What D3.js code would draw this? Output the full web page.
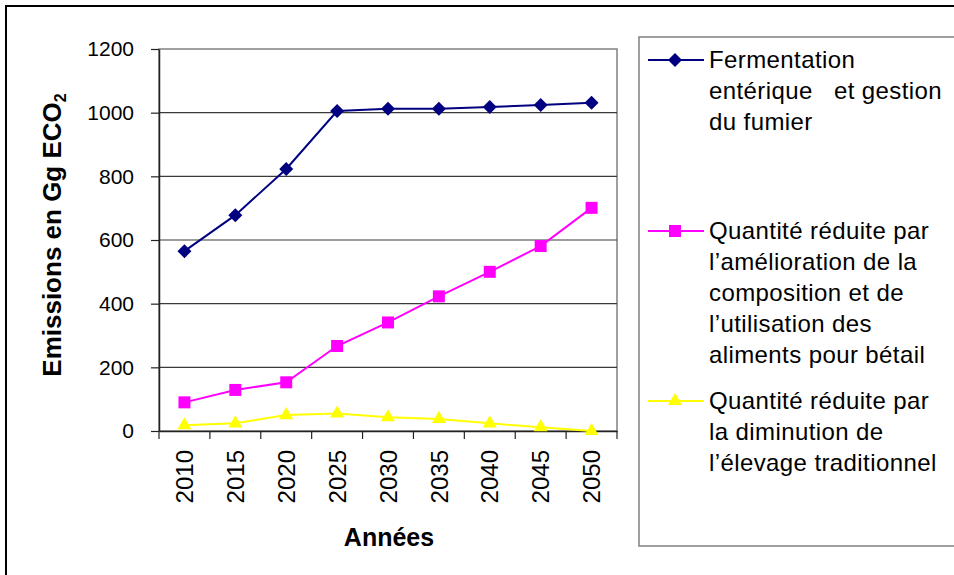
<!DOCTYPE html>
<html>
<head>
<meta charset="utf-8">
<title>Emissions en Gg ECO2</title>
<script src="https://cdn.jsdelivr.net/npm/d3@7"></script>
</head>
<body style="margin:0;background:#fff">
<style>
text { font-family: Arial, "Liberation Sans", sans-serif; fill: #000; }
</style>
<script>

// data
years = ['2010','2015','2020','2025','2030','2035','2040','2045','2050']
fermentation = [565, 678, 823, 1005, 1012, 1012, 1018, 1024, 1031]
reduitAliments = [90, 129, 153, 267, 341, 423, 500, 581, 701]
reduitElevage = [18, 24, 50, 55, 43, 38, 24, 12, 0]
yTicks = [0, 200, 400, 600, 800, 1000, 1200]

legendLabels = [
	['Fermentation', 'entérique   et gestion', 'du fumier'],
	['Quantité réduite par', 'l\u2019amélioration de la', 'composition et de', 'l\u2019utilisation des', 'aliments pour bétail'],
	['Quantité réduite par', 'la diminution de', 'l\u2019élevage traditionnel']
]

var series = [
	{values: fermentation, color: '#000080', shape: 'diamond'},
	{values: reduitAliments, color: '#ff00ff', shape: 'square'},
	{values: reduitElevage, color: '#ffff00', shape: 'triangle'}
];

var svg = d3.select("body").append("svg").attr("width", 954).attr("height", 575);

// outer frame (goes off the right and bottom edges)
svg.append("rect").attr("x", 6).attr("y", 6).attr("width", 1000).attr("height", 1000)
	.style("fill", "none").style("stroke", "#000").style("stroke-width", 2);

var plotLeft = 159, plotRight = 617, plotTop = 49, plotBottom = 431;

var x = d3.scaleBand().domain(years).range([plotLeft, plotRight]).padding(0);
var y = d3.scaleLinear().domain([0, 1200]).range([plotBottom, plotTop]);

// plot border
svg.append("rect").attr("x", plotLeft).attr("y", plotTop)
	.attr("width", plotRight - plotLeft).attr("height", plotBottom - plotTop)
	.style("fill", "none").style("stroke", "#808080").style("stroke-width", 1.5);

// grid lines
svg.append("g").selectAll("line").data(yTicks.slice(1, -1)).enter().append("line")
	.attr("x1", plotLeft).attr("x2", plotRight)
	.attr("y1", function(d){ return y(d); }).attr("y2", function(d){ return y(d); })
	.style("stroke", "#3a3a3a").style("stroke-width", 1.2);

// y axis
var yAxis = svg.append("g").attr("transform", "translate(" + plotLeft + ",0)")
	.call(d3.axisLeft(y).tickValues(yTicks).tickFormat(d3.format("d"))
		.tickSize(8).tickPadding(17).tickSizeOuter(0));
yAxis.select(".domain").style("stroke", "#222").style("stroke-width", 1.5);
yAxis.selectAll(".tick line").style("stroke", "#222").style("stroke-width", 1.2);
yAxis.selectAll("text").style("font-size", "21px").style("font-family", "Arial, 'Liberation Sans', sans-serif");

// x axis: labels in the band centres, ticks between categories
var xAxis = svg.append("g").attr("transform", "translate(0," + plotBottom + ")")
	.call(d3.axisBottom(x).tickSize(0).tickSizeOuter(0));
xAxis.select(".domain").style("stroke", "#222").style("stroke-width", 1.5);
xAxis.selectAll("text")
	.attr("transform", "rotate(-90)")
	.attr("x", -19).attr("y", 0).attr("dy", "0.36em")
	.style("text-anchor", "end")
	.style("font-size", "24px").style("font-family", "Arial, 'Liberation Sans', sans-serif");
xAxis.selectAll("line.edge").data(d3.range(years.length + 1)).enter().append("line")
	.attr("class", "edge")
	.attr("x1", function(i){ return plotLeft + i * x.step(); })
	.attr("x2", function(i){ return plotLeft + i * x.step(); })
	.attr("y1", 0).attr("y2", 8)
	.style("stroke", "#222").style("stroke-width", 1.2);

// axis titles
svg.append("text").attr("x", 389).attr("y", 546)
	.style("text-anchor", "middle").style("font-size", "25px").style("font-weight", "bold")
	.text("Années");

var yTitle = svg.append("text")
	.attr("transform", "translate(61,235) rotate(-90)")
	.style("text-anchor", "middle").style("font-size", "26px").style("font-weight", "bold");
yTitle.append("tspan").text("Emissions en Gg ECO");
yTitle.append("tspan").attr("dy", 5).style("font-size", "16px").text("2");

function symbolFor(shape){
	if (shape == 'diamond') return d3.symbol(d3.symbolSquare, 98)();
	if (shape == 'square') return d3.symbol(d3.symbolSquare, 144)();
	return d3.symbol(d3.symbolTriangle, 85)();
}

var line = d3.line()
	.x(function(d, i){ return x(years[i]) + x.bandwidth() / 2; })
	.y(function(d){ return y(d); });

series.forEach(function(s){
	svg.append("path").datum(s.values)
		.attr("d", line)
		.style("fill", "none").style("stroke", s.color).style("stroke-width", 2);
	svg.append("g").selectAll("path").data(s.values).enter().append("path")
		.attr("d", symbolFor(s.shape))
		.attr("transform", function(d, i){
			var t = "translate(" + (x(years[i]) + x.bandwidth() / 2) + "," + y(d) + ")";
			return s.shape == 'diamond' ? t + " rotate(45)" : t;
		})
		.style("fill", s.color);
});

// legend
svg.append("rect").attr("x", 639).attr("y", 37).attr("width", 400).attr("height", 509)
	.style("fill", "none").style("stroke", "#808080").style("stroke-width", 1.5);

var legendY = [60, 231, 401];
series.forEach(function(s, k){
	var g = svg.append("g").attr("transform", "translate(0," + legendY[k] + ")");
	g.append("line").attr("x1", 648).attr("x2", 704).attr("y1", 0).attr("y2", 0)
		.style("stroke", s.color).style("stroke-width", 2);
	g.append("path").attr("d", symbolFor(s.shape))
		.attr("transform", "translate(675,0)" + (s.shape == 'diamond' ? " rotate(45)" : ""))
		.style("fill", s.color);
	g.selectAll("text").data(legendLabels[k]).enter().append("text")
		.attr("x", 709)
		.attr("y", function(d, i){ return 8 + i * 31; })
		.style("font-size", "24px")
		.style("letter-spacing", "0.4px")
		.style("white-space", "pre")
		.text(function(d){ return d; });
});

</script>
</body>
</html>
